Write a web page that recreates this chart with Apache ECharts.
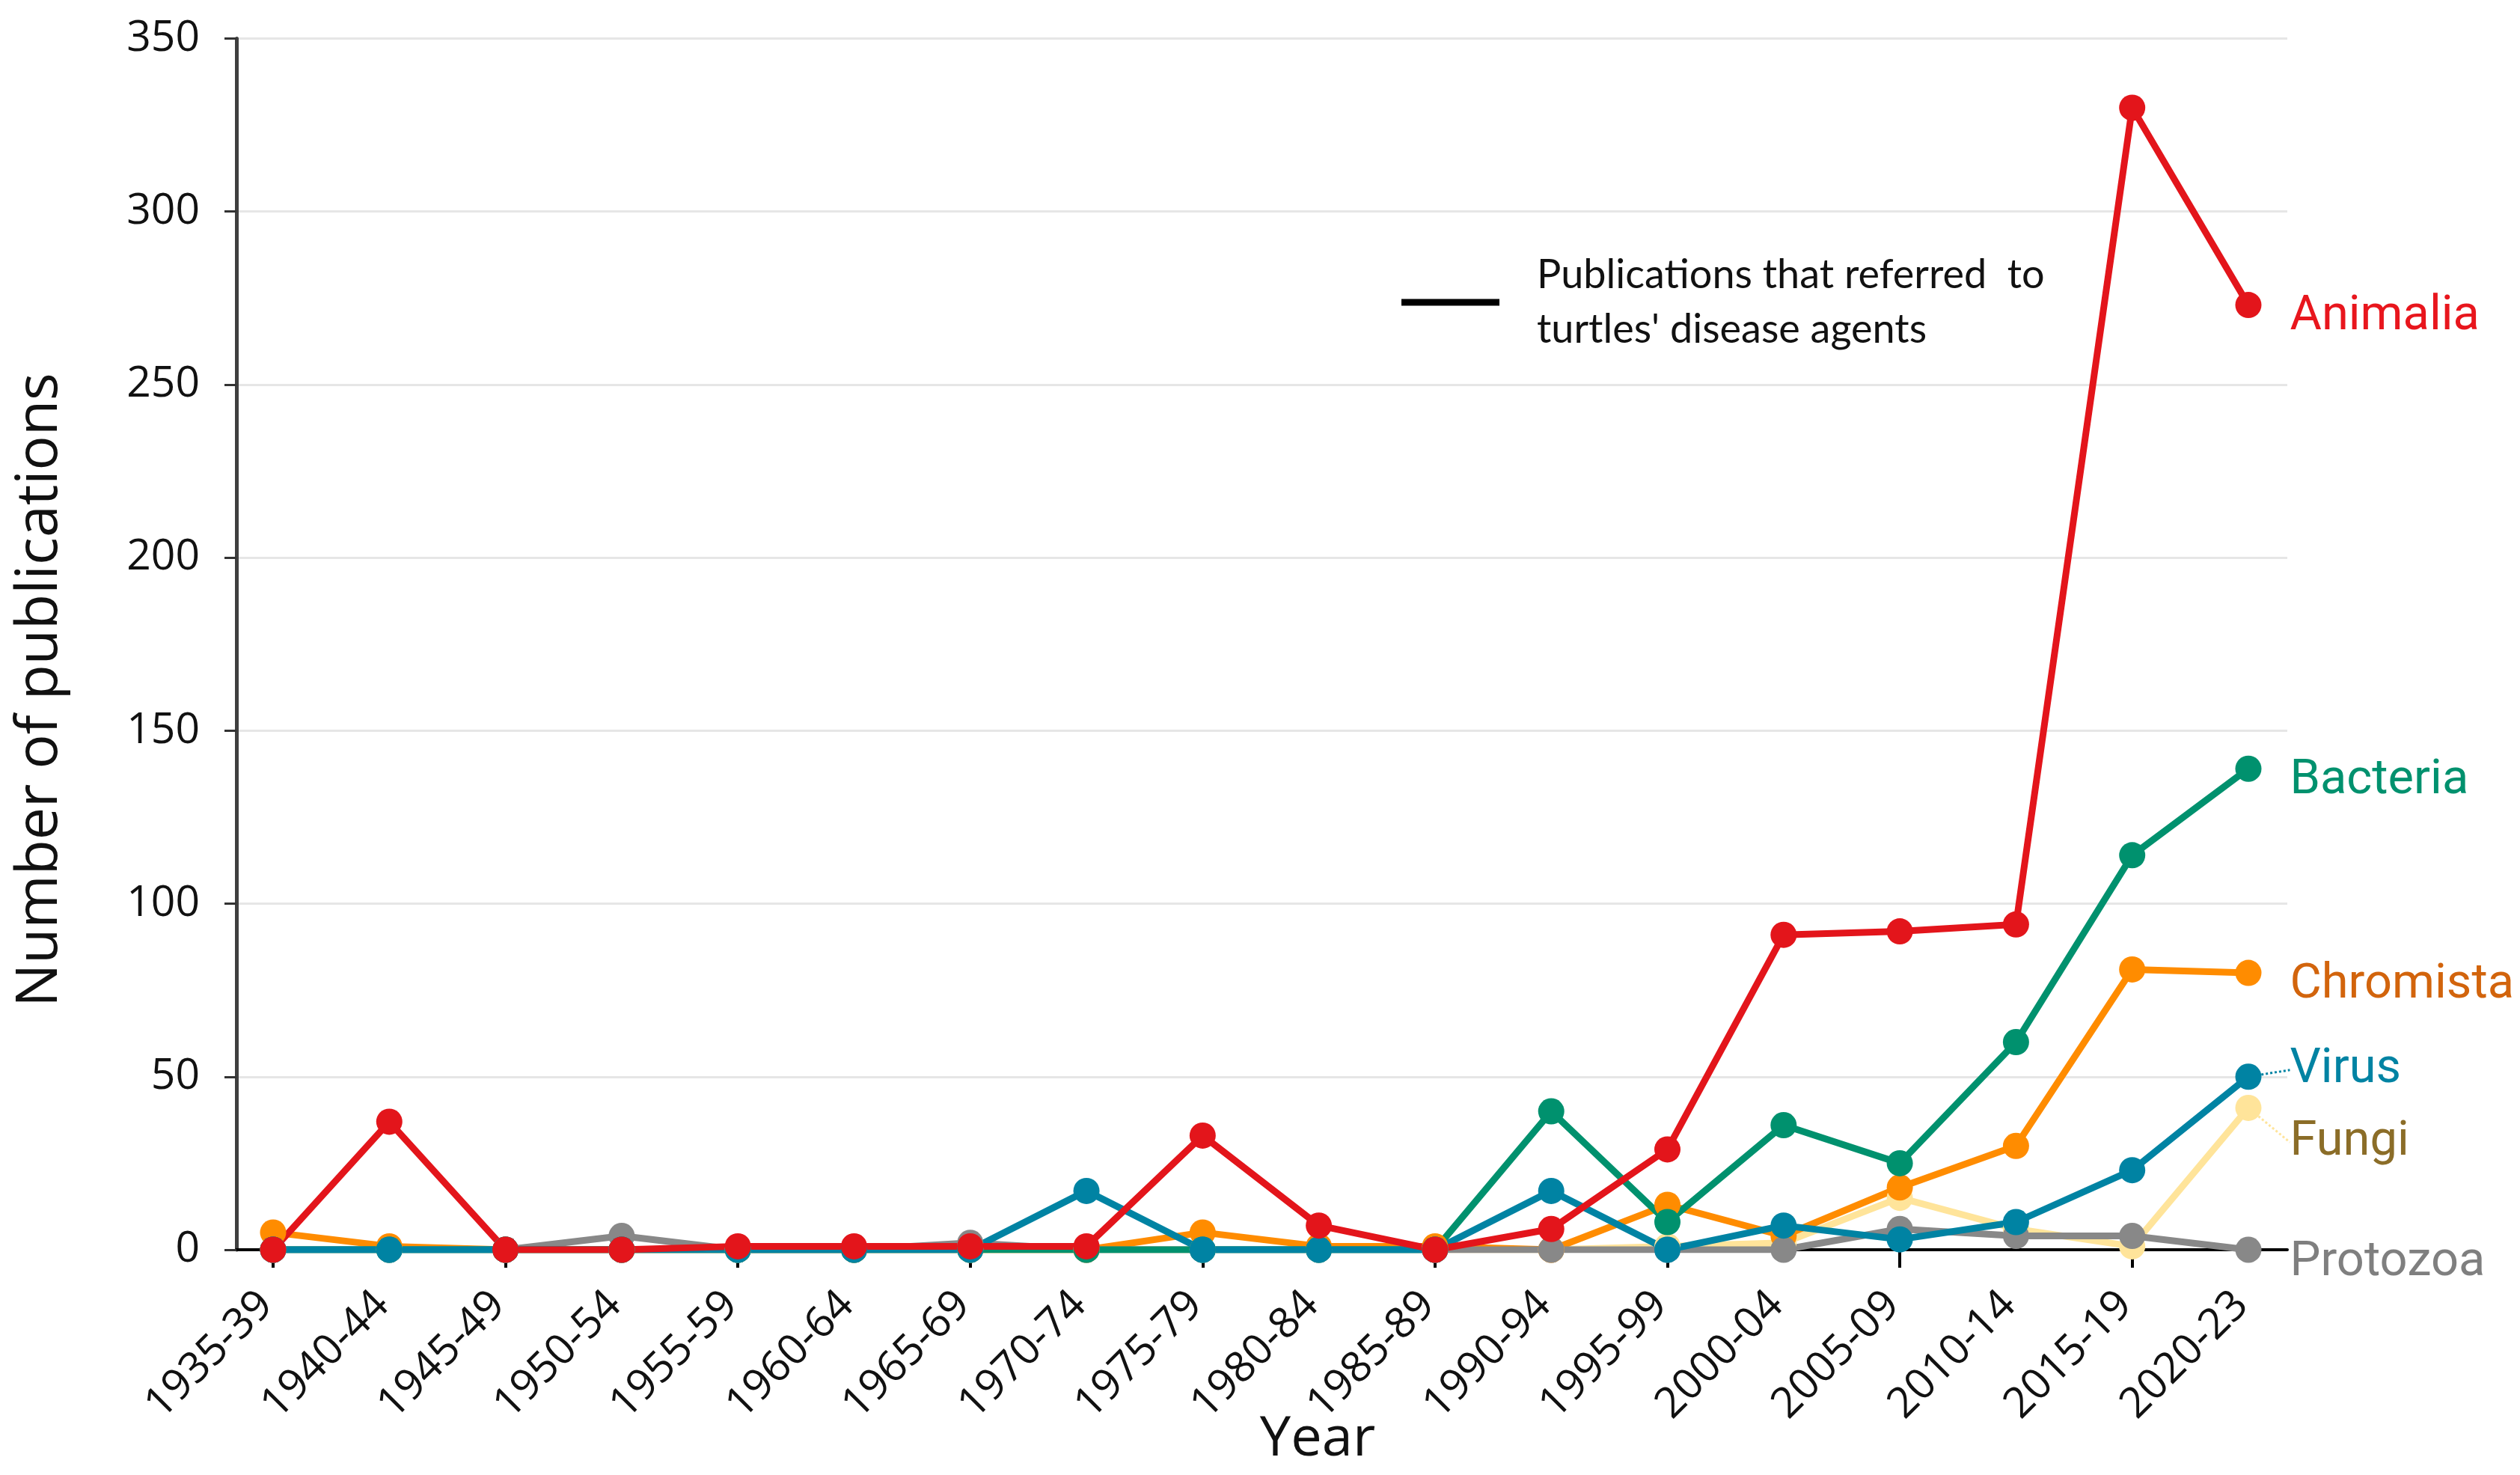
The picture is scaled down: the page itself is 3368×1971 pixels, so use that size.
<!DOCTYPE html>
<html>
<head>
<meta charset="utf-8">
<script src="https://cdn.jsdelivr.net/npm/echarts@6/dist/echarts.min.js"></script>
<style>
html,body{margin:0;padding:0;background:#fff;}
#chart{width:3368px;height:1971px;}
</style>
</head>
<body>
<div id="chart"></div>
<script>
// ---- Data ----
const categories = ['1935-39','1940-44','1945-49','1950-54','1955-59','1960-64','1965-69','1970-74','1975-79','1980-84','1985-89','1990-94','1995-99','2000-04','2005-09','2010-14','2015-19','2020-23'];
const animalia  = [0,37,0,0,1,1,1,1,33,7,0,6,29,91,92,94,330,273];
const bacteria  = [0,0,0,0,0,0,0,0,0,0,0,40,8,36,25,60,114,139];
const chromista = [5,1,0,0,0,0,0,0,5,1,1,0,13,4,18,30,81,80];
const virus     = [0,0,0,0,0,0,0,17,0,0,0,17,0,7,3,8,23,50];
const fungi     = [0,0,0,0,0,0,0,0,0,0,0,0,1,2,15,6,1,41];
const protozoa  = [0,0,0,4,0,0,2,0,0,0,0,0,0,0,6,4,4,0];
const yTicks = [0,50,100,150,200,250,300,350];
const legendName = "Publications that referred to turtles' disease agents";

const chart = echarts.init(document.getElementById('chart'), null, {renderer:'canvas'});

function mkSeries(name, arr, color, labelColor, dy, leader) {
  const last = arr.length - 1;
  return {
    type: 'line',
    name: name,
    data: arr.map((v, i) => i === last
      ? {value: [i, v], label: {show: true}}
      : [i, v]),
    symbol: 'circle',
    symbolSize: 35,
    showAllSymbol: true,
    lineStyle: {width: 9, color: color},
    itemStyle: {color: color},
    label: {
      show: false,
      position: 'right',
      distance: 38,
      formatter: name,
      color: labelColor,
      fontFamily: 'Roboto',
      fontSize: 65
    },
    labelLayout: function (p) { return p.dataIndex === last ? {dy: dy} : {}; },
    labelLine: {show: leader, lineStyle: {type: 'dotted', width: 3, color: color}},
    emphasis: {disabled: true},
    silent: true
  };
}

const option = {
  animation: false,
  backgroundColor: '#ffffff',
  grid: {left: 316, right: 311, top: 51.5, bottom: 301, containLabel: false},
  legend: {
    show: true,
    left: 1873,
    top: 331,
    padding: 0,
    icon: 'rect',
    itemWidth: 131,
    itemHeight: 9,
    data: [legendName],
    formatter: function () { return "Publications that referred  to\nturtles' disease agents"; },
    textStyle: {fontFamily: 'Lato', fontSize: 54, lineHeight: 73, color: '#111', padding: [0,0,0,45]},
    selectedMode: false
  },
  xAxis: {
    type: 'value',
    min: -0.3155,
    max: 17.335,
    splitLine: {show: false},
    axisLine: {show: true, onZero: false, lineStyle: {color: '#000', width: 4}},
    axisTick: {show: true, length: 24, lineStyle: {color: '#000', width: 4},
               customValues: categories.map((c, i) => i).filter(i => i % 2 === 0 && i < 17)},
    axisLabel: {
      customValues: categories.map((c, i) => i),
      formatter: function (v) { return categories[Math.round(v)] || ''; },
      rotate: 45,
      margin: 56,
      padding: [0, 13, 0, 0],
      fontFamily: 'Open Sans',
      fontSize: 57,
      color: '#111'
    }
  },
  yAxis: {
    type: 'value',
    min: yTicks[0],
    max: yTicks[yTicks.length - 1],
    interval: 50,
    axisLine: {show: true, onZero: false, lineStyle: {color: '#3f3f3f', width: 5}},
    axisTick: {show: true, length: 16, lineStyle: {color: '#333', width: 3}},
    axisLabel: {margin: 49, fontFamily: 'Open Sans', fontSize: 57, color: '#111'},
    splitLine: {show: true, lineStyle: {color: '#e6e6e6', width: 3}}
  },
  graphic: [
    {type: 'text', x: 54, y: 922, rotation: Math.PI / 2,
     style: {text: 'Number of publications', fontFamily: 'Open Sans', fontSize: 77, fill: '#111',
             align: 'center', verticalAlign: 'middle'}},
    {type: 'text', x: 1761, y: 1924,
     style: {text: 'Year', fontFamily: 'Open Sans', fontSize: 74, fill: '#111',
             align: 'center', verticalAlign: 'middle'}}
  ],
  series: [
    mkSeries('Fungi', fungi, '#FFE49A', '#8B6D28', 46, true),
    mkSeries('Chromista', chromista, '#FF8C00', '#D2640C', 17, false),
    mkSeries('Protozoa', protozoa, '#888888', '#7F7F7F', 18, false),
    mkSeries('Bacteria', bacteria, '#00916E', '#00916E', 17, false),
    mkSeries('Virus', virus, '#0083A3', '#0083A3', -9, true),
    mkSeries('Animalia', animalia, '#E3151B', '#E8161D', 16, false),
    {type: 'line', name: legendName, data: [], itemStyle: {color: '#000'}, lineStyle: {color: '#000'}}
  ]
};
chart.setOption(option);
</script>
</body>
</html>
